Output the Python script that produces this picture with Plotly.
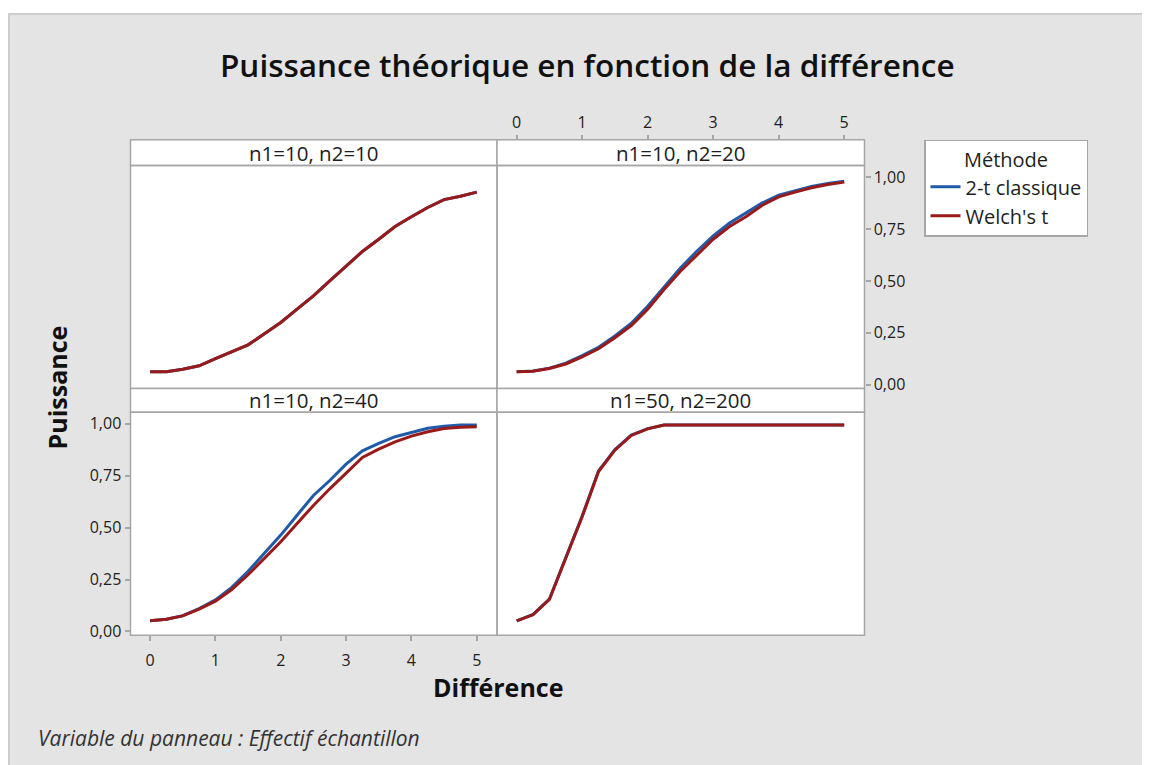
import plotly.graph_objects as go

# ---------------- data ----------------
diff = [0, 0.25, 0.5, 0.75, 1.0, 1.25, 1.5, 1.75, 2.0, 2.25, 2.5, 2.75,
        3.0, 3.25, 3.5, 3.75, 4.0, 4.25, 4.5, 4.75, 5.0]

panel_labels = ["n1=10, n2=10", "n1=10, n2=20", "n1=10, n2=40", "n1=50, n2=200"]
methods = ["2-t classique", "Welch's t"]

p1_classic = [0.062, 0.062, 0.075, 0.091, 0.126, 0.161, 0.192, 0.245, 0.300, 0.364, 0.428,
              0.500, 0.571, 0.642, 0.701, 0.762, 0.809, 0.854, 0.892, 0.908, 0.928]
p1_welch = [0.062, 0.062, 0.075, 0.091, 0.126, 0.161, 0.192, 0.245, 0.300, 0.364, 0.428,
            0.500, 0.571, 0.642, 0.701, 0.762, 0.809, 0.854, 0.892, 0.908, 0.928]

p2_classic = [0.062, 0.066, 0.080, 0.104, 0.140, 0.180, 0.235, 0.296, 0.378, 0.472, 0.562,
              0.643, 0.717, 0.779, 0.826, 0.876, 0.913, 0.935, 0.955, 0.970, 0.980]
p2_welch = [0.062, 0.065, 0.078, 0.100, 0.134, 0.173, 0.226, 0.285, 0.364, 0.459, 0.547,
            0.626, 0.701, 0.762, 0.809, 0.865, 0.905, 0.928, 0.949, 0.965, 0.976]

p3_classic = [0.051, 0.059, 0.076, 0.110, 0.152, 0.212, 0.290, 0.378, 0.464, 0.560, 0.655,
              0.727, 0.806, 0.870, 0.906, 0.938, 0.960, 0.979, 0.989, 0.994, 0.994]
p3_welch = [0.051, 0.059, 0.075, 0.107, 0.146, 0.202, 0.273, 0.353, 0.432, 0.520, 0.607,
            0.687, 0.763, 0.838, 0.878, 0.913, 0.941, 0.962, 0.978, 0.984, 0.986]

p4_classic = [0.051, 0.082, 0.156, 0.353, 0.556, 0.773, 0.876, 0.946, 0.977, 0.994, 0.994,
              0.994, 0.994, 0.994, 0.994, 0.994, 0.994, 0.994, 0.994, 0.994, 0.994]
p4_welch = [0.051, 0.080, 0.154, 0.350, 0.552, 0.770, 0.873, 0.944, 0.976, 0.994, 0.994,
            0.994, 0.994, 0.994, 0.994, 0.994, 0.994, 0.994, 0.994, 0.994, 0.994]

x_ticks = [0, 1, 2, 3, 4, 5]
y_ticks = [0, 0.25, 0.5, 0.75, 1.0]

classic = [p1_classic, p2_classic, p3_classic, p4_classic]
welch = [p1_welch, p2_welch, p3_welch, p4_welch]

# ---------------- layout geometry (screen pixels) ----------------
OFF = 8                      # page body margin
W, H = 1150 - OFF, 765 - OFF
BLUE = "#1f5ba8"
RED = "#9a1a1a"
BORDER = "#a6a6a6"
FONT = "Open Sans"
TXT = "#1e1e1e"

def fx(px):
    return (px - OFF) / W

def fy(py):
    return 1 - (py - OFF) / H

L, M, R = 130.5, 497.0, 864.5
TOP_STRIP, TOP_PLOT0, TOP_PLOT1 = 141.0, 167.0, 392.0
BOT_PLOT0, BOT_PLOT1 = 416.0, 641.0

cols = [(L, M), (M, R)]
rows = [(TOP_PLOT0, TOP_PLOT1), (BOT_PLOT0, BOT_PLOT1)]
strip_rows = [(TOP_STRIP, TOP_PLOT0), (TOP_PLOT1, BOT_PLOT0)]

fig = go.Figure()

for i in range(4):
    ax = "" if i == 0 else str(i + 1)
    fig.add_trace(go.Scatter(x=diff, y=classic[i], mode="lines", name=methods[0],
                             line=dict(color=BLUE, width=3), legendgroup="c",
                             showlegend=(i == 0), xaxis="x" + ax, yaxis="y" + ax))
    fig.add_trace(go.Scatter(x=diff, y=welch[i], mode="lines", name=methods[1],
                             line=dict(color=RED, width=3), legendgroup="w",
                             showlegend=(i == 0), xaxis="x" + ax, yaxis="y" + ax))

xr = [-0.3, 5.31]
yr = [-0.018, 1.056]
tickfont = dict(family=FONT, size=16, color=TXT)

layout = dict(
    width=W, height=H,
    margin=dict(l=0, r=0, t=0, b=0),
    paper_bgcolor="white",
    plot_bgcolor="white",
    separators=", ",
    font=dict(family=FONT, color=TXT),
    showlegend=True,
    legend=dict(x=fx(924), y=fy(141), xanchor="left", yanchor="top",
                bgcolor="white", bordercolor=BORDER, borderwidth=1.5,
                font=dict(family=FONT, size=20, color=TXT),
                title=dict(text="Méthode", side="top center",
                           font=dict(family=FONT, size=20, color=TXT)),
                entrywidth=170, entrywidthmode="pixels",
                tracegroupgap=0),
)

for i in range(4):
    r, c = divmod(i, 2)
    ax = "" if i == 0 else str(i + 1)
    xd = [fx(cols[c][0]), fx(cols[c][1])]
    yd = [fy(rows[r][1]), fy(rows[r][0])]
    xa = dict(domain=xd, range=xr, showgrid=False, zeroline=False, showline=False,
              anchor="y" + ax, showticklabels=False, ticks="", tickvals=x_ticks,
              tickfont=tickfont, ticklen=5, tickcolor=BORDER, tickwidth=1.5)
    ya = dict(domain=yd, range=yr, showgrid=False, zeroline=False, showline=False,
              anchor="x" + ax, showticklabels=False, ticks="", tickvals=y_ticks,
              tickformat=".2f", tickfont=tickfont, ticklen=5, tickcolor=BORDER,
              tickwidth=1.5)
    if i == 1:
        xa.update(side="top", anchor="free", position=fy(TOP_STRIP),
                  showticklabels=True, ticks="outside")
        ya.update(side="right", showticklabels=True, ticks="outside")
    if i == 2:
        xa.update(showticklabels=True, ticks="outside", ticklabelstandoff=6)
        ya.update(showticklabels=True, ticks="outside")
    layout["xaxis" + ax] = xa
    layout["yaxis" + ax] = ya

shapes = [
    # gray background frame
    dict(type="rect", xref="paper", yref="paper", x0=fx(9), x1=1.02, y0=-0.02, y1=fy(14),
         fillcolor="#e4e4e4", line=dict(color="#cdcdcd", width=2), layer="below"),
]
# white plot areas (below traces)
for r in range(2):
    for c in range(2):
        shapes.append(dict(type="rect", xref="paper", yref="paper",
                           x0=fx(cols[c][0]), x1=fx(cols[c][1]),
                           y0=fy(rows[r][1]), y1=fy(rows[r][0]),
                           fillcolor="white", line=dict(width=0), layer="below"))
# strips and borders
for r in range(2):
    for c in range(2):
        shapes.append(dict(type="rect", xref="paper", yref="paper",
                           x0=fx(cols[c][0]), x1=fx(cols[c][1]),
                           y0=fy(strip_rows[r][1]), y1=fy(strip_rows[r][0]),
                           fillcolor="white", line=dict(color=BORDER, width=1.5)))
        shapes.append(dict(type="rect", xref="paper", yref="paper",
                           x0=fx(cols[c][0]), x1=fx(cols[c][1]),
                           y0=fy(rows[r][1]), y1=fy(rows[r][0]),
                           fillcolor="rgba(0,0,0,0)", line=dict(color=BORDER, width=1.5)))
layout["shapes"] = shapes

annotations = []
for i in range(4):
    r, c = divmod(i, 2)
    annotations.append(dict(text=panel_labels[i], xref="paper", yref="paper",
                            x=fx((cols[c][0] + cols[c][1]) / 2),
                            y=fy((strip_rows[r][0] + strip_rows[r][1]) / 2),
                            xanchor="center", yanchor="middle", showarrow=False,
                            font=dict(family=FONT, size=20.5, color=TXT)))
annotations += [
    dict(text="Puissance théorique en fonction de la différence", xref="paper", yref="paper",
         x=fx(587), y=fy(65), xanchor="center", yanchor="middle", showarrow=False,
         font=dict(family=FONT, size=31.5, color="#111111", weight=600)),
    dict(text="Puissance", xref="paper", yref="paper", x=fx(57), y=fy(391),
         xanchor="center", yanchor="middle", textangle=-90, showarrow=False,
         font=dict(family=FONT, size=25, color="#111111", weight="bold")),
    dict(text="Différence", xref="paper", yref="paper", x=fx(498), y=fy(693),
         xanchor="center", yanchor="middle", showarrow=False,
         font=dict(family=FONT, size=25, color="#111111", weight="bold")),
    dict(text="<i>Variable du panneau : Effectif échantillon</i>", xref="paper", yref="paper",
         x=fx(36), y=fy(745), xanchor="left", yanchor="middle", showarrow=False,
         font=dict(family=FONT, size=21, color="#333333")),
]
layout["annotations"] = annotations

fig.update_layout(**layout)
fig.write_html("out.html")
